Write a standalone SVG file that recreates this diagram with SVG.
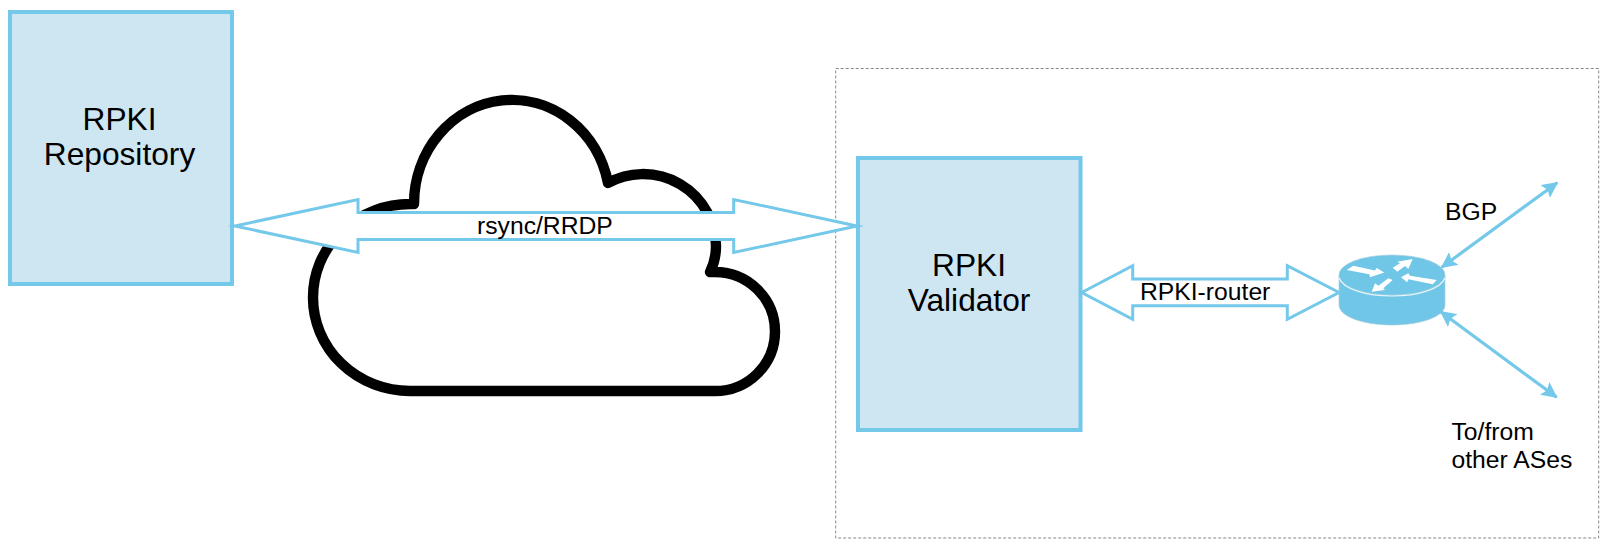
<svg xmlns="http://www.w3.org/2000/svg" width="1600" height="554" viewBox="0 0 1600 554">
<style>
text{font-family:"Liberation Sans",Arial,sans-serif;fill:#000}
.box{fill:#cee6f1;stroke:#74c8e9;stroke-width:4}
.big{font-size:31.7px;text-anchor:middle}
.lab{font-size:24.7px}
.fat{fill:#fff;stroke:#74c8e9;stroke-width:3;stroke-linejoin:miter;stroke-miterlimit:10}
.thin{fill:none;stroke:#74c8e9;stroke-width:3.2;marker-start:url(#ah);marker-end:url(#ah)}
.rw{fill:#fff}
</style>
<defs>
<marker id="ah" markerUnits="userSpaceOnUse" markerWidth="18" markerHeight="16" refX="15" refY="8" orient="auto-start-reverse"><path d="M0 0L16 8L0 16L3 8Z" fill="#74c8e9"/></marker>
</defs>
<rect width="1600" height="554" fill="#fff"/>
<g id="boundary"><rect x="835.7" y="68.5" width="763" height="469.5" fill="none" stroke="#888" stroke-width="1" stroke-dasharray="3 2"/></g>
<g id="cloud"><path d="M410 391A97 93.5 0 0 1 410 204L414 204A98 104 0 0 1 608 183A73 73 0 0 1 716 246C716 255 714 264 710 272L715 272A60 59.5 0 0 1 715 391Z" fill="#fff" stroke="#000" stroke-width="10.4" stroke-linejoin="round"/></g>
<g id="repository"><rect class="box" x="10" y="12" width="222" height="272"/><text class="big" x="119.5" y="129.5">RPKI</text><text class="big" x="119.5" y="165">Repository</text></g>
<g id="validator"><rect class="box" x="858" y="158" width="222.5" height="272"/><text class="big" x="969" y="275.5">RPKI</text><text class="big" x="969" y="311">Validator</text></g>
<g id="router">
<path d="M1339 275V305C1339 316 1362 325 1392 325C1422 325 1445 316 1445 305V275Z" fill="#6fc6e6" stroke="#a9cfdd" stroke-width=".7"/>
<ellipse cx="1392" cy="275" rx="53" ry="20" fill="#6fc6e6" stroke="#a9cfdd" stroke-width=".7"/>
<path d="M1339 278C1343 289 1366 296 1392 296C1418 296 1441 289 1445 278" fill="none" stroke="#e8f4f8" stroke-width="1.2"/>
<polygon class="rw" points="1346.7,270 1353.3,265.7 1375,270.5 1376.7,268 1384.3,272.5 1370,277.3 1369.3,274.3"/>
<polygon class="rw" points="1392.7,267.7 1400,263.3 1397.3,261.7 1412.7,259 1408.3,269 1405,266 1397.3,271.7"/>
<polygon class="rw" points="1401,277.3 1408.3,273.3 1410,275.7 1436.7,280 1432.7,284.3 1408.3,279.3 1407.3,282.3"/>
<polygon class="rw" points="1371.7,291.7 1375,283.3 1378.3,285.7 1388.3,278.3 1392.7,280 1383.3,288.3 1385,290"/>
</g>
<g id="connectors">
<polygon class="fat" points="235,226 358,199.5 358,212.5 733.7,212.5 733.7,199.5 857,226 733.7,252.5 733.7,239.5 358,239.5 358,252.5"/>
<polygon class="fat" points="1081.7,292.5 1132.7,265.7 1132.7,279 1287.3,279 1287.3,265.7 1339,292.5 1287.3,319.3 1287.3,305.7 1132.7,305.7 1132.7,319.3"/>
<line class="thin" x1="1441.7" y1="267.3" x2="1557.3" y2="182.7"/>
<line class="thin" x1="1440.7" y1="311.7" x2="1556.7" y2="397.3"/>
</g>
<text class="lab" x="477" y="234">rsync/RRDP</text>
<text class="lab" x="1140" y="300">RPKI-router</text>
<text class="lab" x="1445" y="220">BGP</text>
<text class="lab" x="1451.5" y="440">To/from</text>
<text class="lab" x="1451.5" y="467.5">other ASes</text>
</svg>
